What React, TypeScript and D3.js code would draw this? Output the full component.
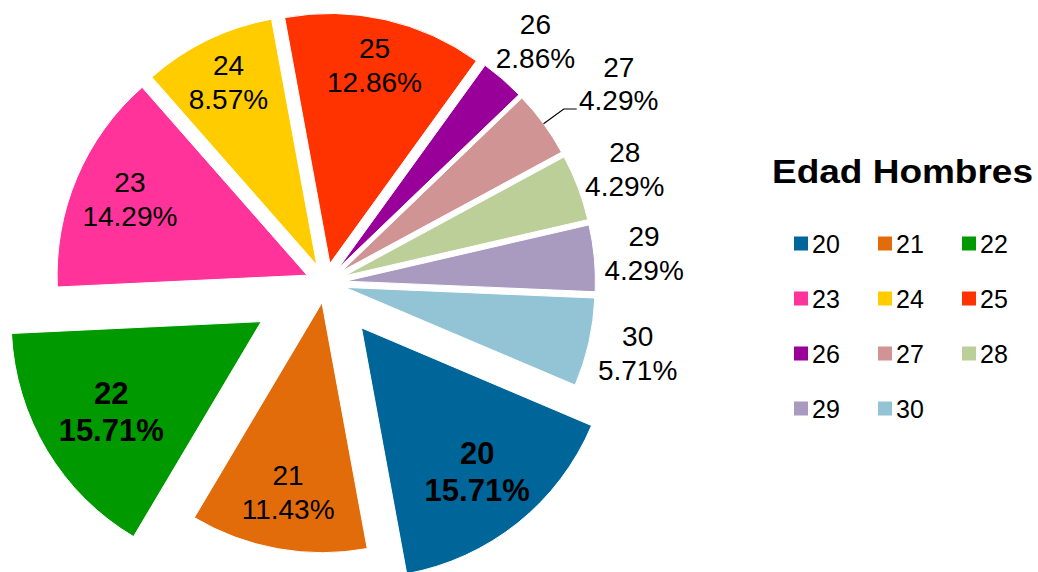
import * as d3 from 'd3'

const AGES = ['20', '21', '22', '23', '24', '25', '26', '27', '28', '29', '30']
const COUNTS = [11, 8, 11, 10, 6, 9, 2, 3, 3, 3, 4]
const COLORS = [
  '#00669a', '#e36c0a', '#009900', '#ff3399', '#ffcc00', '#ff3300',
  '#990099', '#d19494', '#bccf99', '#a99bc0', '#93c4d5',
]
const TITLE = 'Edad Hombres'

const WIDTH = 1038
const HEIGHT = 572
const CENTER = { x: 325.5, y: 283 }
const RADIUS = 250
const START_DEG = 113
const FONT = '"Liberation Sans", Arial, sans-serif'

// explosion as a share of the radius; the two biggest groups are pulled out further
const EXPLODE: Record<string, number> = { '20': 0.23, '22': 0.3 }
const BASE_EXPLODE = 0.08
const BOLD = ['20', '22']
const OUTSIDE = ['26', '27', '28', '29', '30']
const LEADER = ['27']
// where the inside labels sit, as a share of the radius (excel's best fit)
const LABEL_R: Record<string, number> = { '20': 0.74, '21': 0.77, '22': 0.7, '23': 0.77, '24': 0.81, '25': 0.81 }

const total = d3.sum(COUNTS)
const fmt = (v: number) => ((v / total) * 100).toFixed(2) + '%'

const PieChart = () => {
  const pie = d3
    .pie<number>()
    .sort(null)
    .startAngle((START_DEG * Math.PI) / 180)
    .endAngle((START_DEG * Math.PI) / 180 + 2 * Math.PI)
  const arcs = pie(COUNTS)
  const arc = d3.arc<d3.PieArcDatum<number>>().innerRadius(0).outerRadius(RADIUS)

  const slices = arcs.map((a, i) => {
    const age = AGES[i]
    const mid = (a.startAngle + a.endAngle) / 2
    const dx = Math.sin(mid)
    const dy = -Math.cos(mid)
    const e = (EXPLODE[age] ?? BASE_EXPLODE) * RADIUS
    const ox = dx * e
    const oy = dy * e
    const bold = BOLD.includes(age)
    const fs = bold ? 31 : 28
    const lh = bold ? 37 : 34

    let label = null
    if (LEADER.includes(age)) {
      const p0 = [ox + dx * RADIUS, oy + dy * RADIUS]
      const p1 = [ox + dx * (RADIUS + 25), oy + dy * (RADIUS + 25)]
      const p2 = [p1[0] + 13, p1[1]]
      label = (
        <g>
          <polyline
            points={[p0, p1, p2].map((p) => p.join(',')).join(' ')}
            fill="none"
            stroke="#000"
            strokeWidth={1.2}
          />
          <text x={p1[0] + 55} y={p1[1] - 42} textAnchor="middle" dominantBaseline="central" fontSize={fs}>
            {age}
          </text>
          <text x={p1[0] + 55} y={p1[1] - 9} textAnchor="middle" dominantBaseline="central" fontSize={fs}>
            {fmt(COUNTS[i])}
          </text>
        </g>
      )
    } else {
      const r = OUTSIDE.includes(age) ? RADIUS + 50 : RADIUS * (LABEL_R[age] ?? 0.79)
      const lx = ox + dx * r
      const ly = oy + dy * r
      label = (
        <g fontWeight={bold ? 'bold' : 'normal'}>
          <text x={lx} y={ly - lh / 2} textAnchor="middle" dominantBaseline="central" fontSize={fs}>
            {age}
          </text>
          <text x={lx} y={ly + lh / 2} textAnchor="middle" dominantBaseline="central" fontSize={fs}>
            {fmt(COUNTS[i])}
          </text>
        </g>
      )
    }

    return (
      <g key={age}>
        <path
          d={arc(a) || ''}
          transform={`translate(${ox},${oy})`}
          fill={COLORS[i]}
          stroke="#fff"
          strokeWidth={1}
        />
        {label}
      </g>
    )
  })

  // legend: 3 columns
  const legendItems = AGES.map((age, i) => {
    const col = i % 3
    const row = Math.floor(i / 3)
    const x = 794 + col * 84
    const cy = 243.5 + row * 55
    return (
      <g key={age}>
        <rect x={x} y={cy - 7} width={14} height={14} fill={COLORS[i]} />
        <text x={x + 18} y={cy} dominantBaseline="central" fontSize={25}>
          {age}
        </text>
      </g>
    )
  })

  return (
    <svg
      width={WIDTH}
      height={HEIGHT}
      style={{ position: 'absolute', left: 0, top: 0, background: '#fff' }}
      fontFamily={FONT}
      fill="#000"
    >
      <g transform={`translate(${CENTER.x},${CENTER.y})`}>{slices}</g>
      <text
        x={772}
        y={182.5}
        fontSize={33}
        fontWeight="bold"
        textLength={261}
        lengthAdjust="spacingAndGlyphs"
      >
        {TITLE}
      </text>
      {legendItems}
    </svg>
  )
}

export default function App() {
  return <PieChart />
}
